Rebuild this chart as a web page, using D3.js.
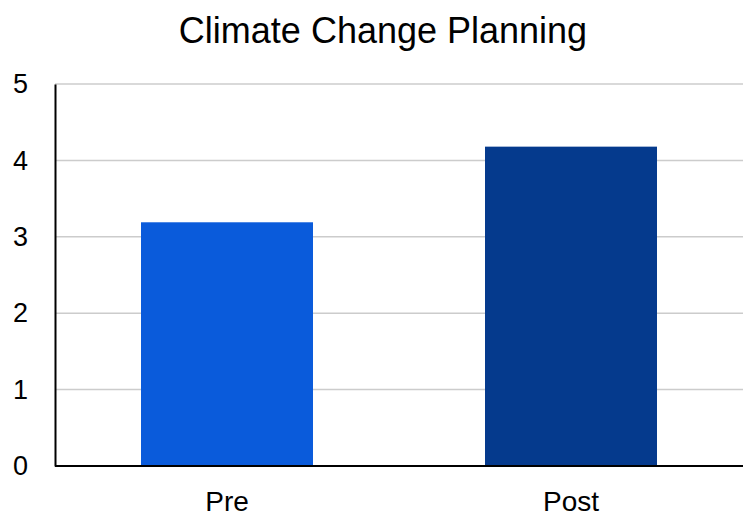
<!DOCTYPE html>
<html>
<head>
<meta charset="utf-8">
<script src="https://cdn.jsdelivr.net/npm/d3@7"></script>
<style>
  body { margin: 0; background: #fff; }
  text { font-family: "Liberation Sans", Arial, sans-serif; fill: #000; }
</style>
</head>
<body>
<svg id="chart" width="746" height="517"></svg>
<script>
'use strict';

// data
var categories = ['Pre', 'Post'];
var values = [3.19, 4.18];
var barColors = ['#0a5bdb', '#053a8d'];
var yTicks = [0, 1, 2, 3, 4, 5];

var width = 746, height = 517;
var margin = { top: 84, right: 3, bottom: 51, left: 55 };

var svg = d3.select('#chart');

var x = d3.scaleBand()
    .domain(categories)
    .range([margin.left, width - margin.right])
    .paddingInner(0.5)
    .paddingOuter(0.25);

var y = d3.scaleLinear()
    .domain([0, 5])
    .range([height - margin.bottom, margin.top]);

// gridlines
svg.append('g').attr('class', 'grid')
    .selectAll('line')
    .data(yTicks.filter(function (d) { return d > 0; }))
    .enter().append('line')
    .attr('x1', margin.left)
    .attr('x2', width - margin.right)
    .attr('y1', function (d) { return y(d); })
    .attr('y2', function (d) { return y(d); })
    .attr('stroke', '#cccccc')
    .attr('stroke-width', 1.5);

// bars
svg.append('g').attr('class', 'bars')
    .selectAll('rect')
    .data(values)
    .enter().append('rect')
    .attr('x', function (d, i) { return x(categories[i]); })
    .attr('width', x.bandwidth())
    .attr('y', function (d) { return y(d); })
    .attr('height', function (d) { return y(0) - y(d); })
    .attr('fill', function (d, i) { return barColors[i]; });

// y axis
var yAxis = svg.append('g')
    .attr('transform', 'translate(' + margin.left + ',0)')
    .call(d3.axisLeft(y).tickValues(yTicks).tickSize(0).tickPadding(27).tickFormat(d3.format('d')));
yAxis.select('.domain').attr('stroke', '#000').attr('stroke-width', 2);
yAxis.selectAll('text').style('font-size', '27px').attr('fill', '#000');

// x axis
var xAxis = svg.append('g')
    .attr('transform', 'translate(0,' + y(0) + ')')
    .call(d3.axisBottom(x).tickSize(0).tickPadding(25));
xAxis.select('.domain').attr('stroke', '#000').attr('stroke-width', 2)
    .attr('d', 'M' + margin.left + ',0H' + (width - margin.right));
xAxis.selectAll('text').style('font-size', '28px').attr('fill', '#000');

// title
svg.append('text')
    .attr('x', 383)
    .attr('y', 43)
    .attr('text-anchor', 'middle')
    .style('font-size', '36px')
    .text('Climate Change Planning');
</script>
</body>
</html>
